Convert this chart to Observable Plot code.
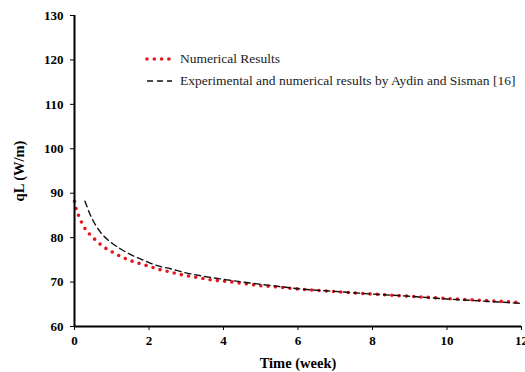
<!DOCTYPE html>
<html>
<head>
<meta charset="utf-8">
<script src="https://cdn.jsdelivr.net/npm/d3@7"></script>
<script src="https://cdn.jsdelivr.net/npm/@observablehq/plot@0.6"></script>
<style>
  html, body { margin: 0; padding: 0; background: #fff; }
  #wrap { position: relative; width: 525px; height: 372px; font-family: "Liberation Serif", "Times New Roman", serif; }
  .leg { position: absolute; left: 142px; font-size: 13.5px; color: #222; display: flex; align-items: center; white-space: nowrap; font-family: "Liberation Serif", serif; }
  .leg svg { margin-right: 5px; }
</style>
</head>
<body>
<div id="wrap"></div>
<script>
// Numerical Results (red dotted)
const numWeeks = [0, 0.05, 0.12, 0.2, 0.3, 0.45, 0.6, 0.75, 0.92, 1.09, 1.28, 1.48, 1.66, 1.86, 2.06, 2.25, 2.45, 2.65, 2.85, 3.03, 3.24, 3.45, 3.67, 3.87, 4.26, 4.46, 4.66, 4.88, 5.5, 6, 7, 8, 9, 10, 11, 12];
const numValues = [88.2, 86.3, 84.8, 83.3, 81.8, 80.4, 79.2, 78.1, 77.2, 76.4, 75.6, 74.9, 74.4, 73.9, 73.4, 72.9, 72.5, 72.1, 71.7, 71.4, 71.1, 70.8, 70.5, 70.3, 70.0, 69.75, 69.55, 69.3, 68.85, 68.45, 67.85, 67.3, 66.8, 66.3, 65.85, 65.4];
// Experimental and numerical results by Aydin and Sisman [16] (black dashed)
const expWeeks = [0.28, 0.43, 0.7, 0.97, 1.23, 1.55, 1.86, 2.22, 2.58, 2.93, 3.47, 4.1, 4.9, 5.5, 6, 7, 8, 9, 10, 11, 12];
const expValues = [88.2, 85.0, 81.2, 79.0, 77.5, 76.0, 74.9, 73.7, 73.0, 72.2, 71.3, 70.5, 69.6, 69.0, 68.5, 67.9, 67.3, 66.8, 66.2, 65.7, 65.2];
const xTicks = [0, 2, 4, 6, 8, 10, 12];
const yTicks = [60, 70, 80, 90, 100, 110, 120, 130];
const legendLabels = ["Numerical Results", "Experimental and numerical results by Aydin and Sisman [16]"];

const numData = numWeeks.map((t, i) => ({t, v: numValues[i]}));
const expData = expWeeks.map((t, i) => ({t, v: expValues[i]}));

const chart = Plot.plot({
  width: 525,
  height: 372,
  marginLeft: 74,
  marginRight: 4,
  marginTop: 15,
  marginBottom: 46,
  style: {fontFamily: "'Liberation Serif', 'Times New Roman', serif", background: "#fff", color: "#000"},
  x: {domain: [0, 12]},
  y: {domain: [60, 130]},
  marks: [
    Plot.axisX({ticks: xTicks, tickSize: 4, tickPadding: 5, fontSize: 13, fontWeight: "bold",
      label: "Time (week)", labelAnchor: "center", labelArrow: "none", labelOffset: 41}),
    Plot.axisY({ticks: yTicks, tickSize: 4, tickPadding: 7, fontSize: 13, fontWeight: "bold",
      label: "qL (W/m)", labelAnchor: "center", labelArrow: "none", labelOffset: 61}),
    Plot.line(numData, {x: "t", y: "v", curve: "monotone-x", stroke: "#e8141c", strokeWidth: 3.6,
      strokeDasharray: "0 7.3", strokeLinecap: "round"}),
    Plot.line(expData, {x: "t", y: "v", curve: "monotone-x", stroke: "#111", strokeWidth: 1.4,
      strokeDasharray: "6 4"}),
    Plot.ruleX([0], {stroke: "#000", strokeWidth: 2}),
    Plot.ruleY([60], {stroke: "#000", strokeWidth: 2})
  ]
});
chart.querySelectorAll("g[aria-label='x-axis label'] text, g[aria-label='y-axis label'] text").forEach(t => {
  t.style.fontWeight = "bold"; t.style.fontSize = "14.5px";
});
const wrap = document.getElementById("wrap");
wrap.appendChild(chart);

const leg1 = document.createElement("div");
leg1.className = "leg"; leg1.style.top = "51px";
leg1.innerHTML = `<svg width="33" height="8"><line x1="5" y1="4" x2="30" y2="4" stroke="#e8141c" stroke-width="3.6" stroke-linecap="round" stroke-dasharray="0 7.3"/></svg><span>${legendLabels[0]}</span>`;
const leg2 = document.createElement("div");
leg2.className = "leg"; leg2.style.top = "73px";
leg2.innerHTML = `<svg width="33" height="8"><line x1="5" y1="4" x2="30" y2="4" stroke="#111" stroke-width="1.4" stroke-dasharray="6 4"/></svg><span>${legendLabels[1]}</span>`;
wrap.appendChild(leg1);
wrap.appendChild(leg2);
</script>
</body>
</html>
